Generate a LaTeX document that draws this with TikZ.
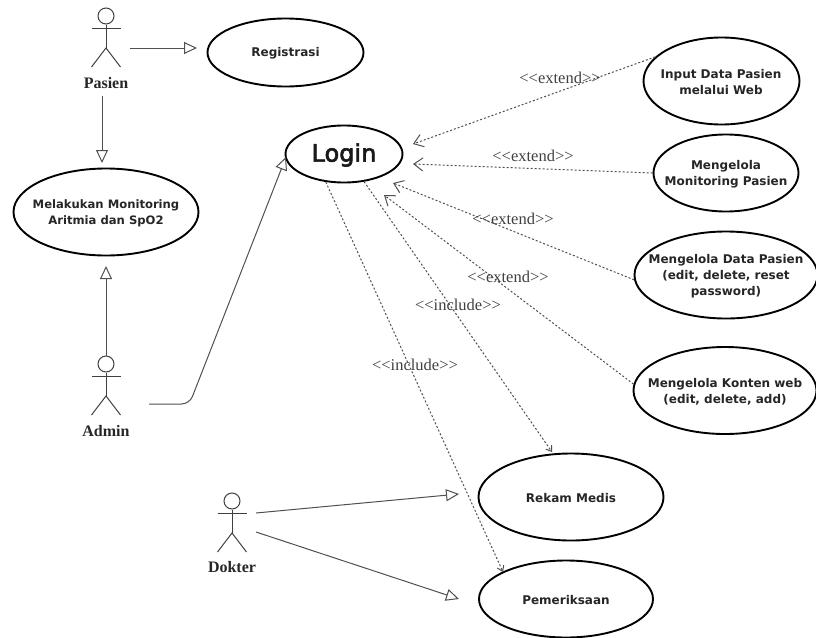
\documentclass[tikz,border=0pt]{standalone}
\usepackage{fontspec}
\setmainfont{Liberation Serif}
\newfontfamily\ucfont{DejaVu Sans}
\newfontfamily\loginfont[FakeBold=2.5]{DejaVu Sans}
\usetikzlibrary{arrows.meta,shapes.geometric}
\definecolor{lineg}{HTML}{505050}
\definecolor{actg}{HTML}{404040}
\tikzset{
  usecase/.style={draw=black,line width=1.9pt,ellipse,inner sep=0pt},
  uctext/.style={inner sep=0pt,align=center,font=\ucfont\bfseries\fontsize{12}{16}\selectfont,text=black!85},
  assoc/.style={draw=lineg,line width=1pt,-{Triangle[open,length=13pt,width=12pt,line width=1pt]}},
  depend/.style={draw=lineg,line width=1pt,dash pattern=on 2pt off 2pt,-{Straight Barb[length=9pt,width=13pt,line width=1pt]}},
  includedep/.style={draw=lineg,line width=1pt,dash pattern=on 2pt off 2pt,-{Straight Barb[length=5pt,width=7pt,line width=1pt]}},
  stereo/.style={inner sep=0pt,font=\fontsize{16.5}{16}\selectfont,text=black!75},
  actorname/.style={inner sep=0pt,font=\bfseries\fontsize{16}{16}\selectfont,text=black!85},
  stick/.style={draw=actg,line width=1pt}
}
\newcommand{\stickman}[3]{%
  \node[stick,circle,minimum size=16pt,inner sep=0pt] (#3) at (#1,#2) {};
  \draw[stick] (#3.south) -- (#1,#2+32);
  \draw[stick] (#1-14.5,#2+12) -- (#1+14.5,#2+12);
  \draw[stick] (#1-14.5,#2+51) -- (#1,#2+32) -- (#1+14.5,#2+51);
}
\begin{document}
\begin{tikzpicture}[x=1pt,y=-1pt]
\useasboundingbox (0,0) rectangle (816,637);
\clip (0,0) rectangle (816,637);

% use cases
\node[usecase,minimum width=156pt,minimum height=68pt] (registrasi) at (285.5,52.5) {};
\node[uctext] (registrasit) at (285.5,53) {Registrasi};
\node[usecase,minimum width=185pt,minimum height=87pt] (monitoring) at (106,212) {};
\node[uctext,font=\ucfont\bfseries\fontsize{11.6}{16}\selectfont] (monitoringt) at (106,213) {Melakukan Monitoring\\Aritmia dan SpO2};
\node[usecase,minimum width=117pt,minimum height=57pt] (login) at (344,154) {};
\node[inner sep=0pt,font=\loginfont\fontsize{24}{26}\selectfont,text=black!90] (logint) at (344,155) {Login};
\node[usecase,minimum width=156pt,minimum height=87pt] (input) at (721.5,81) {};
\node[uctext] (inputt) at (721,82) {Input Data Pasien\\melalui Web};
\node[usecase,minimum width=145pt,minimum height=77pt] (kelola) at (726,173) {};
\node[uctext] (kelolat) at (726,174) {Mengelola\\Monitoring Pasien};
\node[usecase,minimum width=183pt,minimum height=87pt] (datapasien) at (726,275) {};
\node[uctext] (datapasient) at (726,276) {Mengelola Data Pasien\\(edit, delete, reset\\password)};
\node[usecase,minimum width=183pt,minimum height=87pt] (konten) at (725,390.5) {};
\node[uctext] (kontent) at (725,392) {Mengelola Konten web\\(edit, delete, add)};
\node[usecase,minimum width=185pt,minimum height=87pt] (rekam) at (571,497) {};
\node[uctext] (rekamt) at (571,498) {Rekam Medis};
\node[usecase,minimum width=174pt,minimum height=77pt] (periksa) at (566,599) {};
\node[uctext] (periksat) at (566,600) {Pemeriksaan};

% actors
\stickman{106}{16}{pasienhead}
\stickman{106}{364}{adminhead}
\stickman{232}{501}{dokterhead}
\node[actorname] (pasien) at (106,83) {Pasien};
\node[actorname] (admin) at (106,431) {Admin};
\node[actorname] (dokter) at (232,567) {Dokter};

% free ends of the connectors
\coordinate (p1) at (130,48);
\coordinate (p1t) at (197,48);
\coordinate (p2) at (102,96);
\coordinate (p2t) at (102,163);
\coordinate (a1t) at (106,266);
\coordinate (a2) at (149,404);
\coordinate (a2c) at (189.5,404);
\coordinate (a2t) at (286,157);
\coordinate (d1) at (256,513);
\coordinate (d1t) at (459,494);
\coordinate (d2) at (256,532);
\coordinate (d2t) at (459,599);
\coordinate (e1t) at (413,144);
\coordinate (e2t) at (413,164);
\coordinate (e3t) at (393,183);
\coordinate (e4t) at (384,195);
\coordinate (i1t) at (552,452);
\coordinate (i2t) at (503,572);

% solid associations
\draw[assoc] (p1) -- (p1t);
\draw[assoc] (p2) -- (p2t);
\draw[assoc] (adminhead.north) -- (a1t);
\draw[assoc,rounded corners=8pt] (a2) -- (a2c) -- (a2t);
\draw[assoc] (d1) -- (d1t);
\draw[assoc] (d2) -- (d2t);

% dependencies
\draw[depend] (input.160) -- (e1t);
\draw[depend] (kelola.west) -- (e2t);
\draw[depend] (datapasien.183) -- (e3t);
\draw[depend] (konten.176) -- (e4t);
\draw[includedep] (login.-54) -- (i1t);
\draw[includedep] (login.-123) -- (i2t);

% stereotype labels
\node[stereo] (s1) at (560,78) {<{}<extend>{}>};
\node[stereo] (s2) at (533,156) {<{}<extend>{}>};
\node[stereo] (s3) at (513,219) {<{}<extend>{}>};
\node[stereo] (s4) at (508,277) {<{}<extend>{}>};
\node[stereo] (s5) at (458,305) {<{}<include>{}>};
\node[stereo] (s6) at (415,365) {<{}<include>{}>};
\end{tikzpicture}
\end{document}
